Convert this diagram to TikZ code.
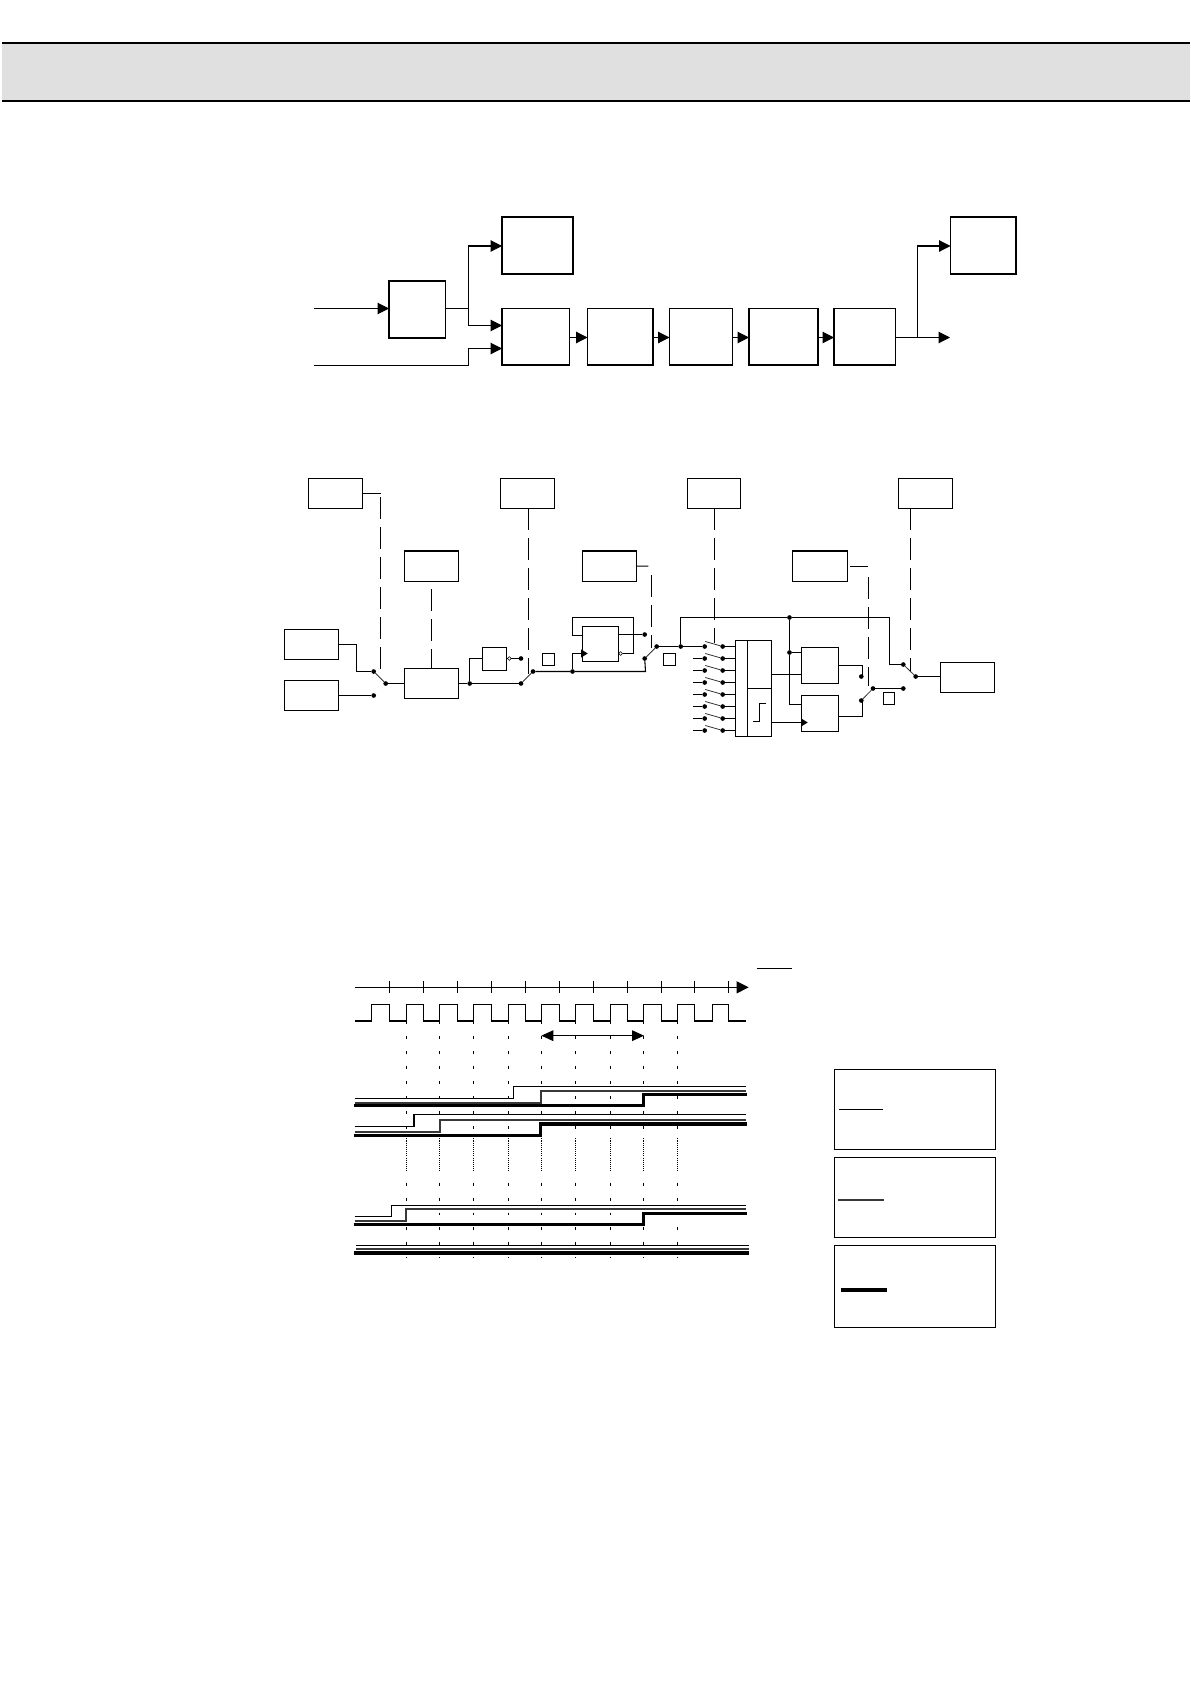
\documentclass[tikz,border=0pt]{standalone}
\usetikzlibrary{arrows.meta}
\definecolor{headgrey}{HTML}{E0E0E0}
\newcommand\bx[6][plainbox]{\node[#1,minimum width={(#5-#3)*0.75pt},minimum height={(#6-#4)*0.75pt}] (#2) at ({(#3+#5)/2},{(#4+#6)/2}) {};}
\tikzset{
  plainbox/.style={draw,line width=0.8pt,inner sep=0pt,outer sep=0pt},
  heavybox/.style={draw,line width=1.1pt,inner sep=0pt,outer sep=0pt},
  wire/.style={line width=0.8pt},
  feed/.style={line width=0.8pt,-{Triangle[length=8.5pt,width=8.5pt]}},
  smallfeed/.style={line width=0.8pt,-{Triangle[length=5pt,width=6pt]}},
  lever/.style={line width=0.6pt,black!80},
  ctrl/.style={line width=0.8pt,dash pattern=on 16.5pt off 6pt},
  dot/.style={circle,fill=black,inner sep=0pt,minimum size=3.5pt,outer sep=0pt},
  opendot/.style={circle,draw,line width=0.4pt,fill=white,inner sep=0pt,minimum size=2.8pt,outer sep=0pt},
  thinw/.style={line width=0.8pt},
  medw/.style={line width=1.5pt,black!78},
  thickw/.style={line width=2.4pt},
  tick/.style={line width=0.6pt,dash pattern=on 2.2pt off 9pt},
  fine/.style={line width=0.5pt,dash pattern=on 0.8pt off 0.8pt},
}
\begin{document}
\begin{tikzpicture}[x=0.75pt,y=-0.75pt]
\useasboundingbox (0,0) rectangle (1190,1684);
\fill[white] (0,0) rectangle (1190,1684);
% header band
\fill[headgrey] (2,43) rectangle (1190,101);
\draw[line width=1.5pt] (2,43) -- (1190,43);
\draw[line width=1.5pt] (2,101) -- (1190,101);

% ---- block diagram
\bx[heavybox]{A}{389}{281}{445.5}{338}
\bx[heavybox]{TL}{502}{217}{573}{274}
\bx[heavybox]{Ba}{502}{308.3}{569.5}{365}
\bx[heavybox]{Bb}{587.5}{308.3}{653}{365}
\bx[heavybox]{Bc}{669.5}{308.3}{732.5}{365}
\bx[heavybox]{Bd}{749}{308.3}{818}{365}
\bx[heavybox]{Be}{834}{308.3}{895.5}{365}
\bx[heavybox]{TR}{950.5}{217}{1016}{274}
\coordinate (in1) at (314,308.5);
\coordinate (in2) at (314,365.5);
\coordinate (j1) at (468.5,308.5);
\coordinate (j2) at (468.5,365.5);
\coordinate (BaU) at (502,325.5);
\coordinate (BaD) at (502,348.5);
\coordinate (TLw) at (502,246);
\coordinate (out) at (950,337.5);
\coordinate (TRw) at (950.5,246);
\coordinate (beo) at (895.5,337.5);
\coordinate (j3) at (917.5,337.5);
\draw[feed] (in1) -- (in1 -| A.west);
\draw[wire] (A.east |- j1) -- (j1);
\draw[feed] (j1) |- (TLw);
\draw[feed] (j1) |- (BaU);
\draw[wire] (in2) -- (j2);
\draw[feed] (j2) |- (BaD);
\draw[feed] (Ba.east |- beo) -- (Bb.west |- beo);
\draw[feed] (Bb.east |- beo) -- (Bc.west |- beo);
\draw[feed] (Bc.east |- beo) -- (Bd.west |- beo);
\draw[feed] (Bd.east |- beo) -- (Be.west |- beo);
\draw[feed] (beo) -- (out);
\draw[feed] (j3) |- (TRw);

% ---- signal path: selector boxes
\bx{Ta}{308.3}{478.3}{362.3}{508.3}
\bx{Tb}{500.3}{478.3}{554.3}{508.3}
\bx{Tc}{687.3}{478.3}{740.7}{508.3}
\bx{Td}{898.3}{478.3}{952.3}{508.3}
\bx{Ma}{404.3}{551}{458.3}{581.3}
\bx{Mb}{582.3}{551}{636.3}{581.3}
\bx{Mc}{792.3}{551}{847.3}{581.3}
\bx{La}{284.3}{629.3}{338.3}{659.3}
\bx{Lb}{284.3}{680.3}{338.3}{710.3}
\bx{C}{404.3}{668.3}{458.3}{698.3}
\bx{G}{482.3}{647.3}{506.7}{670.3}
\bx{FF}{582.3}{626.3}{618.3}{661.3}
\bx{Q1}{542.3}{653.3}{554.3}{665.3}
\bx{Q2}{663.3}{653.3}{675.3}{665.3}
\bx{Q3}{883.3}{692.7}{894.7}{704.7}
\bx{Dec}{735.3}{640.3}{771.3}{736.3}
\bx{Ra}{801.3}{647.3}{838.7}{683.3}
\bx{Rb}{801.3}{695.3}{838.7}{731.3}
\bx{Out}{940.3}{662.3}{994.3}{692.3}
% dots
\node[dot] (s1a) at (373.7,671.5) {};
\node[dot] (s1b) at (373.7,695.5) {};
\node[dot] (s1c) at (385.7,683.5) {};
\node[dot] (d1) at (469.7,683.5) {};
\node[dot] (s2a) at (521,683.5) {};
\node[dot] (s2g) at (521,658.5) {};
\node[dot] (s2c) at (533,671.5) {};
\node[dot] (d2) at (572.5,671.5) {};
\node[opendot] (ogate) at (509.3,658.5) {};
\node[opendot] (off) at (620.7,653.5) {};
\node[dot] (s3a) at (644.7,658.5) {};
\node[dot] (s3q) at (644.7,634.5) {};
\node[dot] (s3c) at (656.7,646.5) {};
\node[dot] (d3) at (680.7,646.5) {};
\node[dot] (d4) at (789.5,617.5) {};
\node[dot] (d5) at (789.5,652.5) {};
\node[dot] (s4a) at (861.3,676.5) {};
\node[dot] (s4b) at (861.3,700.5) {};
\node[dot] (s4c) at (873,688.5) {};
\node[dot] (s5b) at (903.3,688.5) {};
\node[dot] (s5a) at (903.3,664.5) {};
\node[dot] (s5c) at (915.7,676.5) {};
% wiring
\draw[wire] (La.east |- 0,644.5) -- (356.5,644.5) |- (s1a);
\draw[wire] (s1b -| Lb.east) -- (s1b);
\draw[lever] (s1a) -- (s1c);
\draw[wire] (s1c) -- (s1c -| C.west);
\draw[wire] (d1 -| C.east) -- (d1) -- (s2a);
\draw[wire] (d1) |- (G.west);
\draw[wire] (G.east |- ogate) -- (ogate);
\draw[wire] (ogate) -- (s2g);
\draw[lever] (s2a) -- (s2c);
\draw[wire] (s2c) -- (d2) -- (645.5,671.5) -- (s3a);
\coordinate (ffck) at (587.7,653.5);
\draw[smallfeed] (d2) |- (ffck);
\draw[wire] (582.3,635.5) -| (572.5,617.5) -| (633.5,653.5) -- (off);
\draw[wire] (FF.east |- s3q) -- (s3q);
\draw[lever] (s3a) -- (s3c);
\draw[wire] (s3c) -- (d3);
\draw[wire] (d3) |- (d4) -- (889.5,617.5) |- (s5a);
\draw[wire] (d4) -- (d5) -- (789.5,704.5) -- (801.3,704.5);
\draw[wire] (d5) -- (d5 -| Ra.west);
\foreach \i/\y in {1/646.5,2/658.5,3/670.5,4/682.5,5/694.5,6/706.5,7/718.5,8/730.5}{
  \node[dot] (SL\i) at (704.7,\y) {};
  \node[dot] (SR\i) at (722.7,\y) {};
  \coordinate (LV\i) at (705.3,\y-5);
  \draw[lever] (LV\i) -- (SR\i);
  \draw[wire] (SR\i) -- (SR\i -| Dec.west);
}
\draw[wire] (d3) -- (SL1);
\foreach \i in {2,...,8}{
  \coordinate (IN\i) at (693,0 |- SL\i);
  \draw[wire] (IN\i) -- (SL\i);
}
\draw[line width=0.8pt] (747.5,640.3) -- (747.5,736.3);
\draw[line width=0.8pt] (747.5,688.5) -- (771.3,688.5);
\draw[line width=0.8pt] (753.3,721.5) -- (759.5,721.5) -- (759.5,703.5) -- (766,703.5);
\draw[wire] (771.3,674.5) -- (801.3,674.5);
\coordinate (rbck) at (807.7,722.5);
\draw[smallfeed] (771.3,722.5) -- (rbck);
\draw[wire] (838.7,665.5) -| (862.5,676.5);
\draw[wire] (838.7,716.5) -| (862.5,700.5);
\draw[lever] (s4b) -- (s4c);
\draw[wire] (s4c) -- (s5b);
\draw[lever] (s5a) -- (s5c);
\draw[wire] (s5c) -- (s5c -| Out.west);
% control lines
\draw[wire] (Ta.east) -- (380.5,493.3);
\draw[ctrl] (380.5,497) -- (380.5,676);
\draw[ctrl] (Tb.south -| 528.5,0) -- (528.5,674);
\draw[ctrl] (Tc.south -| 714.5,0) -- (714.5,643);
\draw[ctrl] (910.5,508.3) -- (910.5,671);
\draw[ctrl] (431.5,589) -- (C.north -| 431.5,0);
\draw[wire] (Mb.east) -- (648.3,566.2);
\draw[ctrl] (651.5,575) -- (651.5,648);
\draw[wire] (850.3,566.2) -- (868,566.2);
\draw[ctrl] (868.5,577) -- (868.5,686);

% ---- timing chart
\begin{scope}[shift={(340,950)},x=0.25pt,y=-0.25pt]
  \foreach \x in {199,298,400,505,604,706,811,910,1012}{
    \draw[tick] (\x,214) -- (\x,540);
    \draw[fine] (\x,565) -- (\x,665);
    \draw[tick] (\x,698) -- (\x,925);
  }
  \draw[line width=0.8pt,-{Triangle[length=9pt,width=9pt]}] (44,112) -- (1226,112);
  \foreach \x in {148,250,352,454,556,658,760,862,964,1064,1165}
    \draw[line width=0.6pt] (\x,94) -- (\x,130);
  \draw[thinw] (44,213) -- (95,213) -- (95,163) -- (148,163) -- (148,213) -- (199,213) -- (199,163) -- (250,163) -- (250,213) -- (298,213) -- (298,163) -- (352,163) -- (352,213) -- (400,213) -- (400,163) -- (454,163) -- (454,213) -- (505,213) -- (505,163) -- (556,163) -- (556,213) -- (604,213) -- (604,163) -- (658,163) -- (658,213) -- (706,213) -- (706,163) -- (760,163) -- (760,213) -- (811,213) -- (811,163) -- (862,163) -- (862,213) -- (910,213) -- (910,163) -- (964,163) -- (964,213) -- (1012,213) -- (1012,163) -- (1064,163) -- (1064,213) -- (1117,213) -- (1117,163) -- (1165,163) -- (1165,213) -- (1217,213);
  \draw[line width=0.8pt,{Triangle[length=9pt,width=8pt]}-{Triangle[length=9pt,width=8pt]}] (604,257) -- (912,257);
  % group 1
  \draw[thinw] (44,446) -- (520,446) -- (520,409) -- (1217,409);
  \draw[medw] (44,458) -- (604,458) -- (604,422) -- (1217,422);
  \draw[thickw] (41,467) -- (910,467) -- (910,434) -- (1220,434);
  % group 2
  \draw[thinw] (44,529) -- (222,529) -- (222,493) -- (1217,493);
  \draw[medw] (44,546) -- (300,546) -- (300,510) -- (1217,510);
  \draw[thickw] (41,557) -- (602,557) -- (602,522) -- (1220,522);
  % group 3
  \draw[thinw] (44,800) -- (155,800) -- (155,766) -- (1217,766);
  \draw[medw] (44,812) -- (197,812) -- (197,778) -- (1217,778);
  \draw[thickw] (41,824) -- (910,824) -- (910,790) -- (1220,790);
  % group 4
  \draw[thinw] (48,886) -- (1226,886);
  \draw[medw] (48,897) -- (1226,897);
  \draw[thickw] (41,909) -- (1226,909);
\end{scope}
\draw[line width=0.8pt] (757,968.5) -- (791.5,968.5);

% ---- legend
\bx[heavybox]{Ka}{834.3}{1069.3}{995.3}{1149.3}
\bx[heavybox]{Kb}{834.3}{1157.3}{995.3}{1237.3}
\bx[heavybox]{Kc}{834.3}{1245.3}{995.3}{1327.3}
\draw[thinw] (839,1109.5) -- (883,1109.5);
\draw[medw] (838.3,1199.5) -- (883.7,1199.5);
\draw[thickw] (840.7,1290) -- (887.3,1290);
\end{tikzpicture}
\end{document}
